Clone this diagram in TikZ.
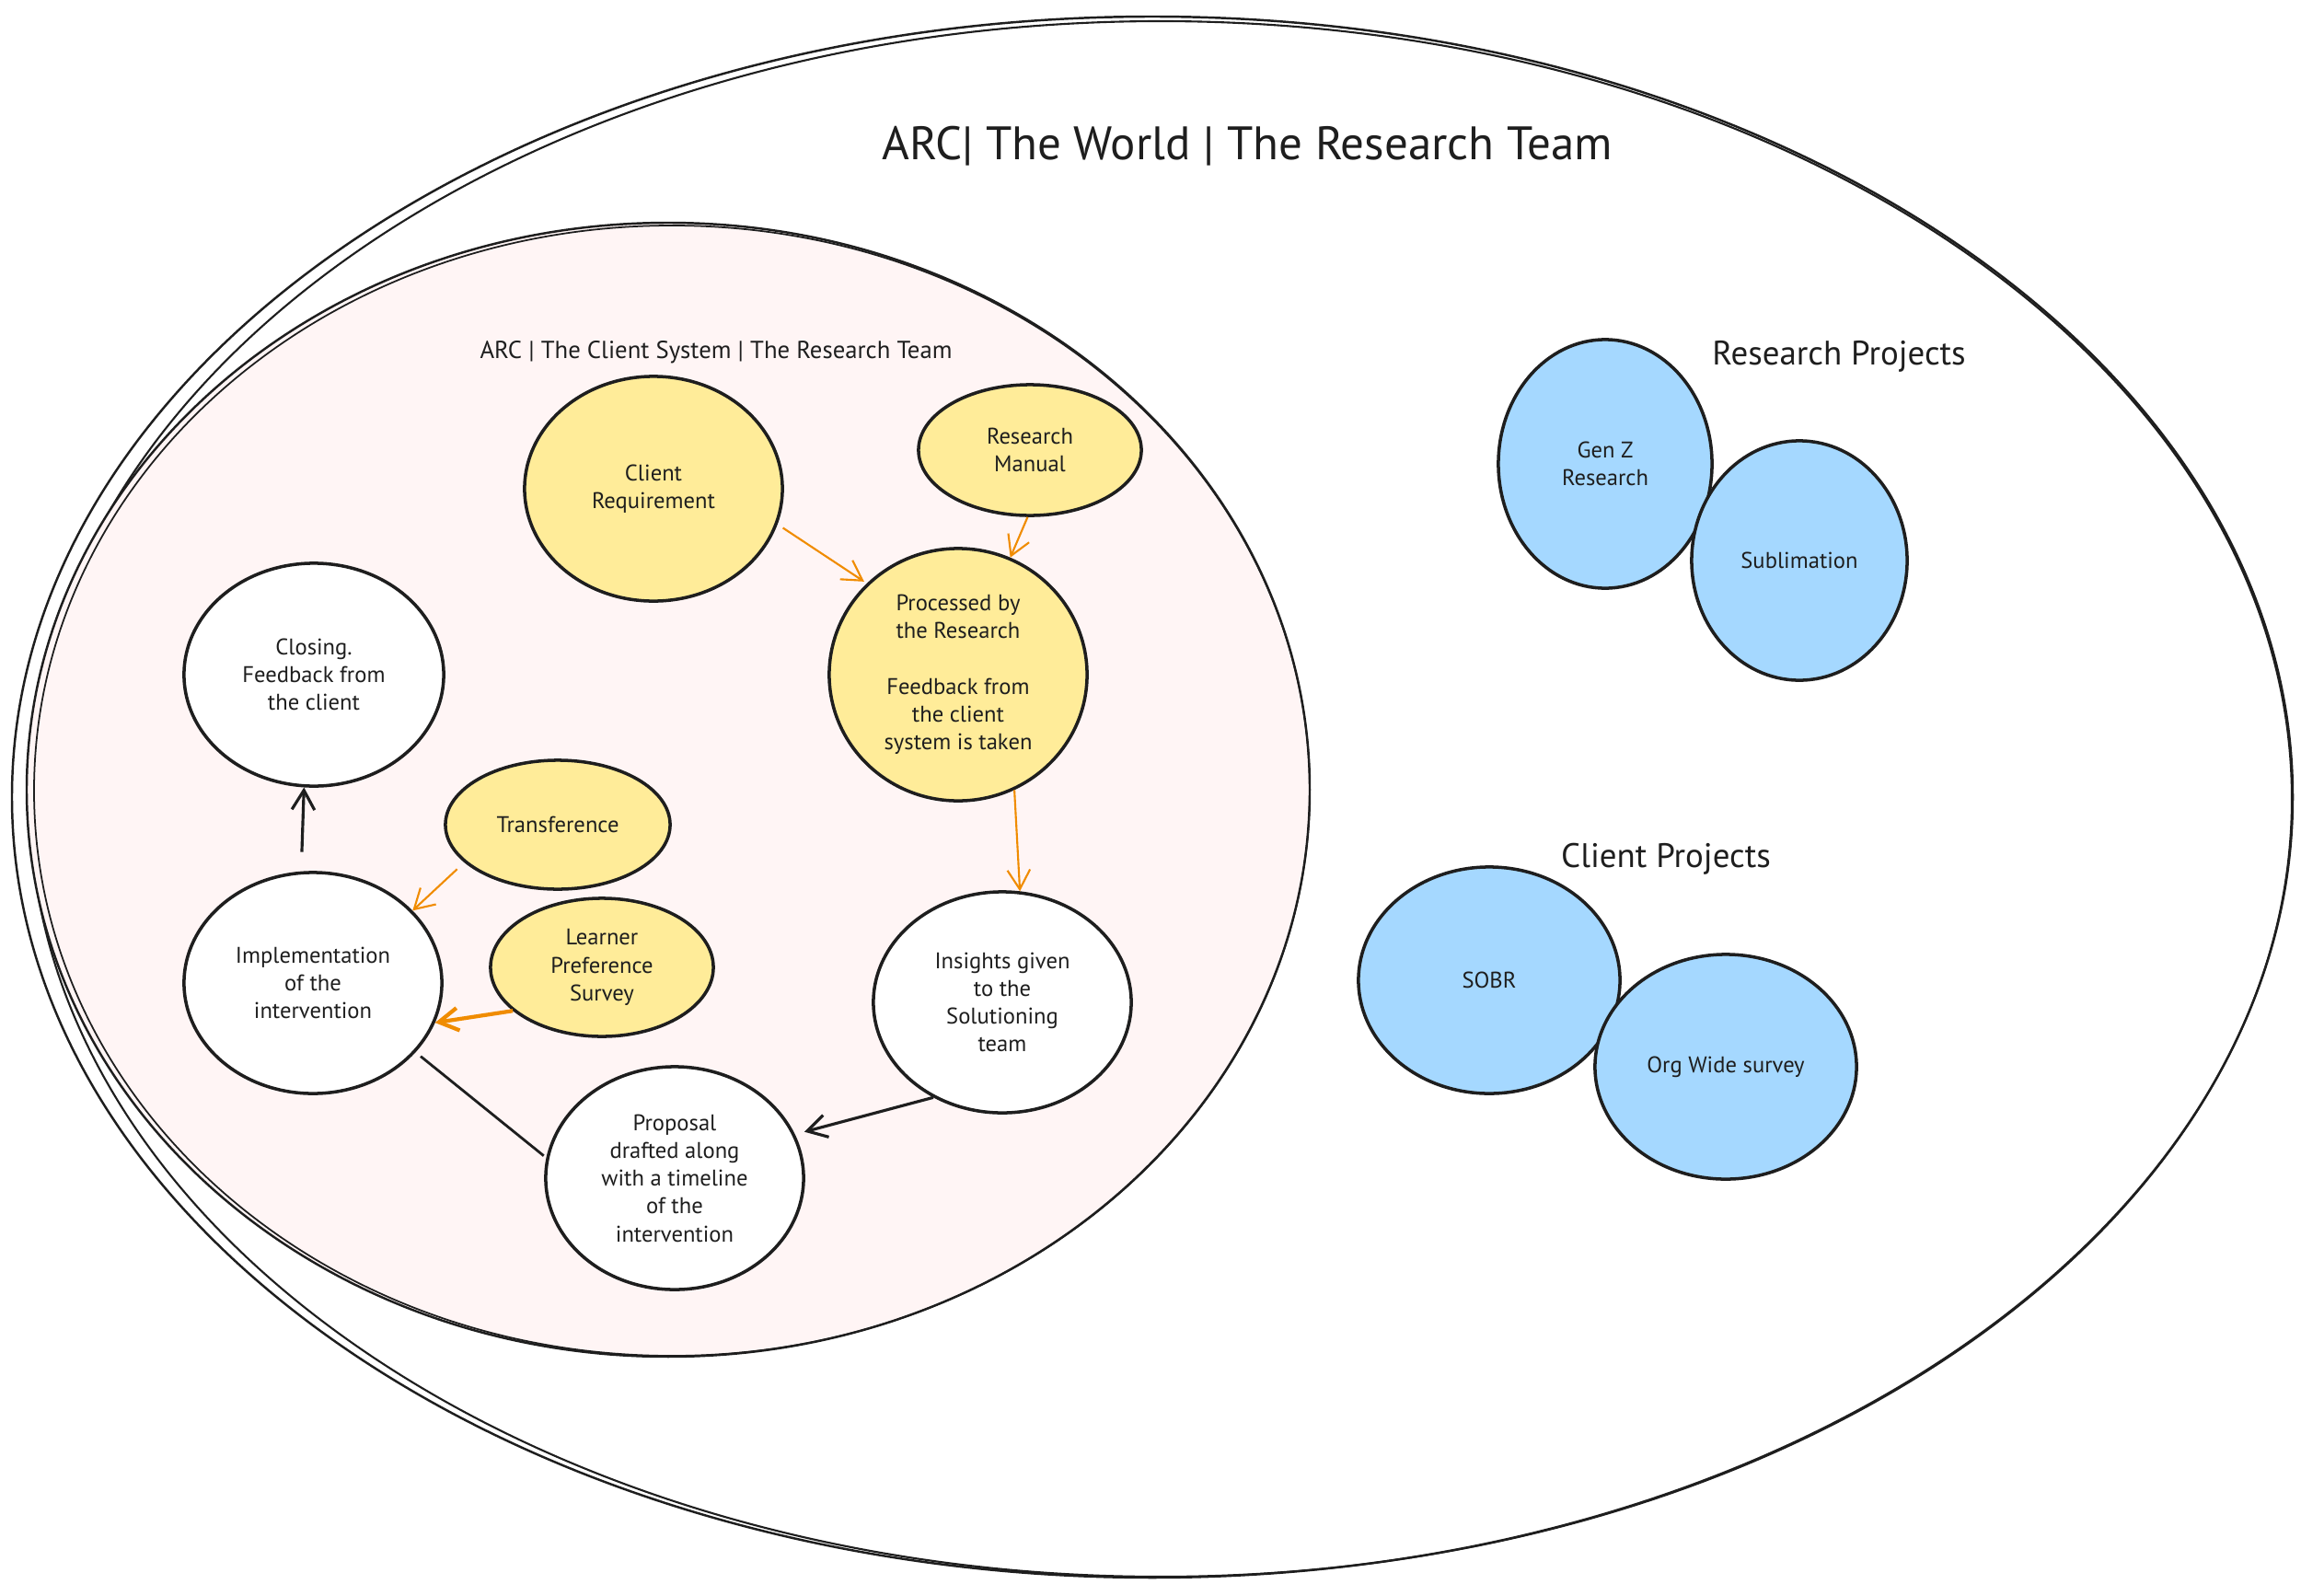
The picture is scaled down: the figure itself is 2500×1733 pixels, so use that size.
\documentclass[tikz,border=0pt]{standalone}
\usepackage{fontspec}
\setmainfont{PT Sans}
\usetikzlibrary{shapes.geometric,arrows.meta}
\definecolor{ink}{HTML}{1E1E1E}
\definecolor{orng}{HTML}{F08C00}
\definecolor{yel}{HTML}{FFEC99}
\definecolor{blu}{HTML}{A5D8FF}
\definecolor{pnk}{HTML}{FFF5F5}
\tikzset{
  bub/.style={ellipse, draw=ink, line width=1pt, inner sep=0pt, align=center,
    font=\fontsize{7}{8.6}\selectfont, text=ink},
  ybub/.style={bub, fill=yel},
  wbub/.style={bub, fill=white},
  bbub/.style={bub, fill=blu},
  oarrow/.style={draw=orng, line width=0.6pt, -{Straight Barb[length=6pt,width=7pt]}},
  karrow/.style={draw=ink, line width=0.9pt, -{Straight Barb[length=6pt,width=7pt]}},
  hdr/.style={text=ink, inner sep=0pt}
}
\begin{document}
\begin{tikzpicture}[x=0.01cm,y=-0.01cm]
\useasboundingbox[fill=white] (0,0) rectangle (2500,1733);
% world ellipse (double sketch stroke)
\draw[ink, line width=0.7pt] (1252,866) ellipse [x radius=1239, y radius=848];
\draw[ink, line width=0.6pt] (1261,868) ellipse [x radius=1229, y radius=845];
% client system ellipse
\draw[ink, line width=0.7pt, fill=pnk] (726,858) ellipse [x radius=697, y radius=616];
\draw[ink, line width=0.5pt] (730,859) ellipse [x radius=693, y radius=614];

% headings
\node[hdr, font=\fontsize{14.5}{17}\selectfont] (title) at (1355,159) {ARC| The World | The Research Team};
\node[hdr, font=\fontsize{7.6}{9}\selectfont] (sub) at (778,383) {ARC | The Client System | The Research Team};
\node[hdr, font=\fontsize{10.5}{12}\selectfont] (rp) at (1998,387) {Research Projects};
\node[hdr, font=\fontsize{10.5}{12}\selectfont] (cp) at (1810,933) {Client Projects};

% client system nodes
\node[ybub, minimum width=2.80cm, minimum height=2.44cm] (cr) at (710,531) {Client\\Requirement};
\node[ybub, minimum width=2.42cm, minimum height=1.42cm] (rm) at (1119,489) {Research\\Manual};
\node[ybub, minimum width=2.80cm, minimum height=2.74cm] (proc) at (1041,733) {Processed by\\the Research\\~\\Feedback from\\the client\\system is taken};
\node[wbub, minimum width=2.82cm, minimum height=2.42cm] (clo) at (341,733) {Closing.\\Feedback from\\the client};
\node[ybub, minimum width=2.44cm, minimum height=1.40cm] (tr) at (606,896) {Transference};
\node[ybub, minimum width=2.42cm, minimum height=1.50cm] (lps) at (654,1051) {Learner\\Preference\\Survey};
\node[wbub, minimum width=2.80cm, minimum height=2.40cm] (imp) at (340,1068) {Implementation\\of the\\intervention};
\node[wbub, minimum width=2.80cm, minimum height=2.40cm] (ins) at (1089,1089) {Insights given\\to the\\Solutioning\\team};
\node[wbub, minimum width=2.80cm, minimum height=2.42cm] (prop) at (733,1280) {Proposal\\drafted along\\with a timeline\\of the\\intervention};

% project nodes
\node[bbub, minimum width=2.32cm, minimum height=2.70cm] (genz) at (1744,504) {Gen Z\\Research};
\node[bbub, minimum width=2.34cm, minimum height=2.60cm] (subl) at (1955,609) {Sublimation};
\node[bbub, minimum width=2.84cm, minimum height=2.46cm] (sobr) at (1618,1065) {SOBR};
\node[bbub, minimum width=2.84cm, minimum height=2.44cm] (org) at (1875,1159) {Org Wide survey};

% connectors
\draw[oarrow, shorten <=2pt, shorten >=1pt] (cr.-16) -- (proc.135);
\draw[oarrow] (rm.-92) -- (proc.66);
\draw[oarrow] (proc.-64) -- (ins.81);
\draw[karrow, shorten >=3pt] (ins.-126) -- (prop.20);
\draw[ink, line width=0.8pt, shorten <=1pt, shorten >=2pt] (prop.171) -- (imp.-34);
\draw[karrow, shorten <=6pt] (imp.96) -- (clo.-95);
\draw[oarrow, shorten <=3pt] (tr.-158) -- (imp.36);
\draw[oarrow, line width=1.2pt] (lps.-154) -- (imp.-18);
\end{tikzpicture}
\end{document}
